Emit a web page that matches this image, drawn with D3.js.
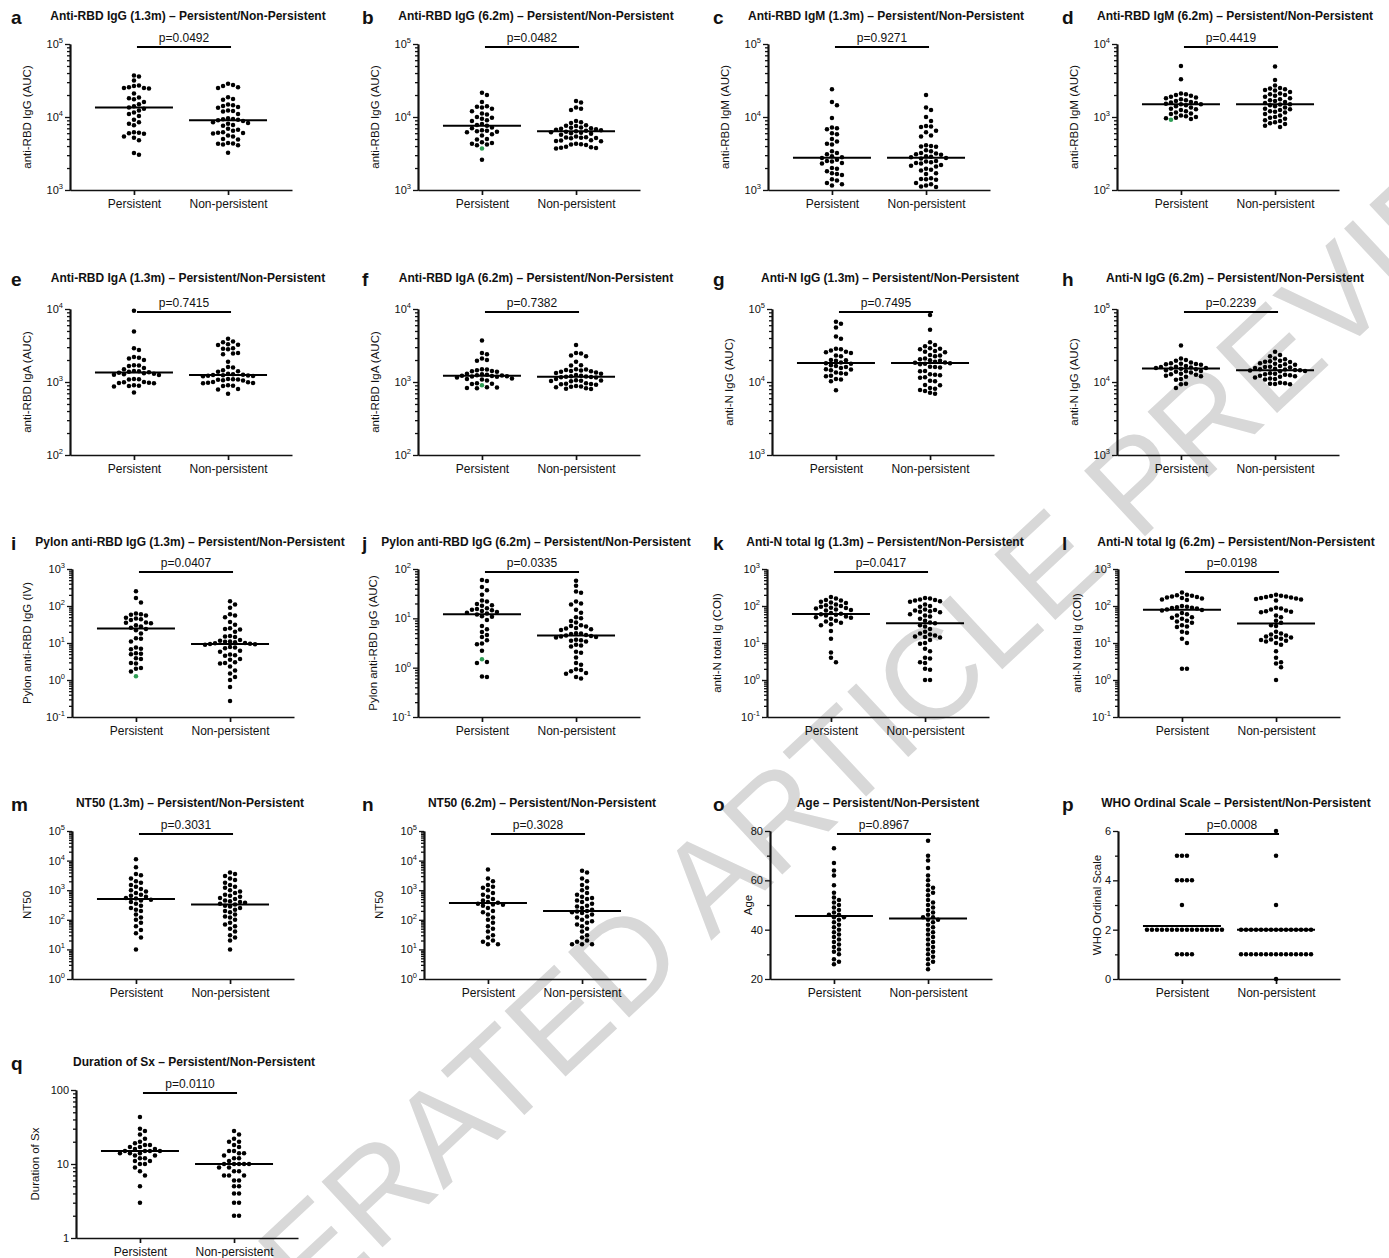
<!DOCTYPE html>
<html><head><meta charset="utf-8">
<script src="https://cdn.jsdelivr.net/npm/d3@7/dist/d3.min.js"></script>
<style>
body{margin:0;background:#fff;}
svg text{font-family:"Liberation Sans",Arial,Helvetica,sans-serif;fill:#111;}
</style></head><body>
<svg id="fig" width="1389" height="1258"></svg>
<script>
const groups = ["Persistent", "Non-persistent"];

// ---- measured values per panel: [persistent], [non-persistent] ----
const aP = [37000,36000,31500,27000,26500,25500,25000,25000,24500,21000,18500,18000,17500,16000,15000,14000,13500,13000,12300,11500,11000,10300,9200,8500,8100,7700,6200,6100,6000,5900,5400,5200,4800,3200,3050];
const aN = [28500,27500,26500,25500,25000,18700,17700,17200,14800,14500,14200,13700,13400,12300,12100,11900,11000,9600,9400,9300,9200,9000,8800,8500,8300,8100,7800,7600,6900,6700,6500,6200,6100,6050,5950,5600,5400,5000,4900,4400,4350,4300,4200,4100,3250];
const bP = [21500,20000,16000,14000,13800,13500,13000,12000,11200,10800,10000,9800,9500,9000,8800,8000,7800,7600,7200,7000,6600,6500,6400,6300,6200,5800,5600,5000,4900,4500,4400,4300,4200,4100,2600];
const bN = [16500,15800,13500,13000,12500,8800,8500,8300,7700,7600,7500,7200,7100,7000,6900,6800,6700,6600,6500,6400,6300,6200,6100,6000,5900,5700,5400,5300,5250,5200,5150,5100,4800,4750,4700,4650,4300,4250,4200,4150,3900,3850,3800,3750,3700];
const cP = [24000,16000,14500,9700,7200,7000,6800,6000,5800,5000,4600,4300,4200,3400,3200,3100,2900,2800,2750,2600,2500,2450,2350,2300,2000,1950,1800,1700,1650,1600,1400,1350,1250,1200,1150];
const cN = [20000,13500,12500,10000,8800,7500,7400,7300,6500,6200,5600,5400,4100,4000,3950,3900,3500,3400,3200,3150,3100,3050,2900,2850,2800,2750,2700,2500,2450,2400,2350,2300,2200,2150,2100,1950,1900,1850,1700,1650,1450,1420,1400,1380,1250,1200,1150,1120,1100];
const dP = [5000,3300,2100,2050,2000,1950,1900,1850,1800,1750,1700,1650,1600,1580,1550,1520,1500,1490,1450,1400,1350,1300,1280,1250,1200,1150,1120,1100,1050,1020,1000,980,960,940];
const dN = [4900,3200,2700,2500,2450,2400,2350,2300,2200,2100,2050,2000,1950,1900,1800,1750,1700,1650,1600,1550,1500,1480,1450,1400,1350,1300,1280,1250,1200,1180,1150,1100,1050,1000,980,950,900,880,850,820,800,760,730];
const eP = [9500,4900,2900,2750,2200,2150,2100,2000,1700,1680,1650,1550,1500,1420,1400,1380,1360,1340,1320,1300,1280,1260,1250,1100,1090,1080,1000,990,980,970,960,900,890,880,870,720];
const eN = [3900,3600,3500,3300,3250,3200,2900,2850,2800,2500,2450,2400,1900,1600,1580,1450,1400,1380,1300,1280,1260,1250,1240,1230,1220,1210,1200,1100,1090,1080,1070,1060,1050,1000,990,980,970,960,900,890,880,800,790,690];
const fP = [3700,2500,2400,2100,2000,1950,1500,1480,1450,1420,1400,1380,1300,1280,1260,1240,1230,1220,1210,1200,1190,1180,1150,1120,1100,1080,1050,960,950,940,850,840,830,820];
const fN = [3200,2500,2450,2300,2250,1900,1700,1680,1500,1480,1460,1440,1420,1400,1380,1350,1330,1300,1250,1220,1200,1190,1180,1170,1160,1150,1100,1060,1050,1040,1030,1020,960,950,940,930,920,880,870,860,850,820,810,800];
const gP = [67000,63000,56000,42000,39000,28500,28000,27000,26000,25500,25000,23000,22500,20000,19800,19500,18500,18000,17800,17000,16500,16000,15500,15000,14800,14500,13500,13200,13000,12200,12000,11000,10800,10200,7700];
const gN = [83000,52000,35000,32000,31000,29000,28500,28000,26500,26000,25500,23500,23000,22500,21000,20500,19800,19500,19000,18500,18300,18000,17800,17500,16200,16000,15800,14200,14000,12800,12600,12400,11600,11400,10400,10200,9100,9000,8300,8100,7800,7500,7100,6900];
const hP = [31500,21000,20000,19500,18500,18000,17800,17600,17500,17200,16500,16200,16000,15800,15600,15500,15300,15200,15000,14500,14200,14000,13800,13500,13000,12800,12600,12200,12000,11800,11000,10700,9500,9300,8300];
const hN = [26000,23500,22500,21000,20500,19500,19200,19000,18800,18000,17800,17500,17200,16500,16200,16000,15800,15500,15200,15000,14800,14600,14500,14400,14200,14000,13200,13000,12800,12600,12400,12200,12000,11800,11500,11200,11000,10800,9800,9600,9500,9400,9300];
const iP = [250,165,125,63,60,58,55,48,46,44,42,36,35,34,30,28,26,24,22,18,13.5,13,11,7.5,7,6.8,5.3,5.1,5,3.9,3.7,2.9,2.8,2.1,2.0,1.7];
const iN = [135,110,90,60,55,50,37,31,25,24,23,20,15.5,15,14.5,12,11.5,11,10.8,10.5,10,9.8,9.6,9.4,9.2,9,7.8,7.5,7.2,6.2,5.8,4.9,4.7,4.5,3.7,3.5,3.0,2.9,2.8,2.3,1.8,1.5,1.2,1.0,0.65,0.27];
const jP = [60,57,43,37,30,23,22,19.5,18.5,18,16,15.5,15,14.5,14,13.5,13,12.5,12,11,10.8,9.3,7,6,5.3,4.6,4.2,3.6,3.1,3.0,2.2,1.3,1.25,0.66,0.65];
const jN = [58,46,35,33,22,20,19,15,13,10.5,10,8.8,8.2,7.2,7,6.8,6.4,6.2,6,5.8,5.0,4.9,4.8,4.6,4.5,4.4,4.3,4.2,4.1,3.7,3.6,3.5,3.4,2.9,2.8,2.7,2.1,2.0,1.6,1.25,1.15,0.93,0.9,0.85,0.78,0.75,0.65,0.6];
const kP = [175,160,145,140,130,125,120,110,105,100,95,90,88,85,80,78,75,65,62,60,58,55,52,50,48,45,40,38,35,32,30,21,13,5.5,4,3];
const kN = [165,160,150,145,140,135,130,110,100,95,80,78,75,72,70,68,60,55,52,45,40,36,34,30,28,24,20,18,17,16,15,14.5,14,12,10,9.5,7,6,4,3.8,3,2.9,2,1.9,1.0,1.0];
const lP = [230,200,195,190,180,175,170,165,160,150,145,100,95,92,90,88,85,80,78,75,65,60,55,50,48,45,40,38,35,30,28,27,20,19,13,10,2,2];
const lN = [200,190,185,180,175,170,165,160,155,150,140,90,85,80,75,72,70,68,55,50,40,35,30,29,20,18,17,16,15,14.5,14,13,12.5,12,11.5,11,10,9,6,4,3,2.8,2.2,1.0];
const mP = [11000,6000,3500,3200,2500,2000,1800,1500,1300,1100,1000,900,800,700,650,600,550,520,480,450,400,350,300,250,220,200,150,120,100,80,60,45,35,25,10];
const mN = [4000,3500,3000,2500,2200,1800,1500,1300,1200,1000,900,800,700,650,600,550,500,450,420,400,380,350,330,300,280,250,220,200,180,150,130,120,100,80,70,60,50,40,30,25,20,10];
const nP = [5000,2500,2000,1500,1300,1200,1000,800,700,600,500,450,400,380,350,330,320,300,250,200,180,150,120,100,80,60,50,40,30,25,20,18,15,15];
const nN = [4500,4000,2500,2000,1500,1200,1000,800,700,600,550,500,450,400,350,300,280,250,220,200,190,180,170,150,130,120,100,90,80,70,60,50,40,30,25,20,18,15,15,15];
const oP = [73,67,64,62,58,55,53,52,51,50,49,48,47,46,46,45,45,44,43,42,41,40,39,38,37,36,35,34,33,32,31,30,28,27,26];
const oN = [76,70,68,65,62,60,58,57,56,55,54,52,51,50,49,48,47,46,45,45,44,44,43,42,41,40,39,38,37,36,35,34,33,32,31,30,29,28,27,26,24];
const pP = [5,5,5,4,4,4,4,3,2,2,2,2,2,2,2,2,2,2,2,2,2,2,2,2,1,1,1,1];
const pN = [6,5,3,2,2,2,2,2,2,2,2,2,2,2,2,2,2,2,1,1,1,1,1,1,1,1,1,1,1,1,1,1,1,0];
const qP = [43,30,28,25,22,20,19,18,18,17,17,16,16,15,15,15,15,14,14,14,13,13,12,12,11,11,10,10,9,8,7,5,3];
const qN = [28,25,22,20,20,18,17,15,15,14,14,13,12,12,11,10,10,10,10,10,9,9,8,8,7,7,7,6,6,5,5,4,4,3,3,2,2];

// group summary lines (persistent, non-persistent)
const medians = {a:[13500,9000], b:[7600,6400], c:[2760,2760], d:[1490,1490], e:[1350,1250], f:[1220,1180],
  g:[18200,18200], h:[15300,14500], i:[24.5,9.4], j:[12.1,4.5], k:[61,34], l:[79,33.5],
  m:[500,330], n:[370,200], o:[45.5,44.5], p:[2.15,2.0], q:[15,10]};
// individually highlighted persistent-group values
const highlighted = {b:3700, d:920, f:900, i:1.27, j:1.48};

const pValues = {a:"p=0.0492", b:"p=0.0482", c:"p=0.9271", d:"p=0.4419", e:"p=0.7415", f:"p=0.7382",
  g:"p=0.7495", h:"p=0.2239", i:"p=0.0407", j:"p=0.0335", k:"p=0.0417", l:"p=0.0198",
  m:"p=0.3031", n:"p=0.3028", o:"p=0.8967", p:"p=0.0008", q:"p=0.0110"};

const titles = {
  a:"Anti-RBD IgG (1.3m) – Persistent/Non-Persistent", b:"Anti-RBD IgG (6.2m) – Persistent/Non-Persistent",
  c:"Anti-RBD IgM (1.3m) – Persistent/Non-Persistent", d:"Anti-RBD IgM (6.2m) – Persistent/Non-Persistent",
  e:"Anti-RBD IgA (1.3m) – Persistent/Non-Persistent", f:"Anti-RBD IgA (6.2m) – Persistent/Non-Persistent",
  g:"Anti-N IgG (1.3m) – Persistent/Non-Persistent", h:"Anti-N IgG (6.2m) – Persistent/Non-Persistent",
  i:"Pylon anti-RBD IgG (1.3m) – Persistent/Non-Persistent", j:"Pylon anti-RBD IgG (6.2m) – Persistent/Non-Persistent",
  k:"Anti-N total Ig (1.3m) – Persistent/Non-Persistent", l:"Anti-N total Ig (6.2m) – Persistent/Non-Persistent",
  m:"NT50 (1.3m) – Persistent/Non-Persistent", n:"NT50 (6.2m) – Persistent/Non-Persistent",
  o:"Age – Persistent/Non-Persistent", p:"WHO Ordinal Scale – Persistent/Non-Persistent",
  q:"Duration of Sx – Persistent/Non-Persistent"};

const yLabels = {a:"anti-RBD IgG (AUC)", b:"anti-RBD IgG (AUC)", c:"anti-RBD IgM (AUC)", d:"anti-RBD IgM (AUC)",
  e:"anti-RBD IgA (AUC)", f:"anti-RBD IgA (AUC)", g:"anti-N IgG (AUC)", h:"anti-N IgG (AUC)",
  i:"Pylon anti-RBD IgG (IV)", j:"Pylon anti-RBD IgG (AUC)", k:"anti-N total Ig (COI)", l:"anti-N total Ig (COI)",
  m:"NT50", n:"NT50", o:"Age", p:"WHO Ordinal Scale", q:"Duration of Sx"};

const series = {a:[aP,aN], b:[bP,bN], c:[cP,cN], d:[dP,dN], e:[eP,eN], f:[fP,fN], g:[gP,gN], h:[hP,hN],
  i:[iP,iN], j:[jP,jN], k:[kP,kN], l:[lP,lN], m:[mP,mN], n:[nP,nN], o:[oP,oN], p:[pP,pN], q:[qP,qN]};

// y-axis domains and tick sets
const yDomains = {a:[1e3,1e5], b:[1e3,1e5], c:[1e3,1e5], d:[1e2,1e4], e:[1e2,1e4], f:[1e2,1e4],
  g:[1e3,1e5], h:[1e3,1e5], i:[0.1,1e3], j:[0.1,1e2], k:[0.1,1e3], l:[0.1,1e3],
  m:[1,1e5], n:[1,1e5], o:[20,80], p:[0,6], q:[1,100]};
const linearTicks = {o:[20,40,60,80], p:[0,2,4,6]};
const linearMinor = {o:[30,50,70], p:[1,3,5]};

// ---- layout ----
const rows = [
  {titleY:20, top:44, bottom:190},
  {titleY:282, top:309, bottom:455},
  {titleY:546, top:569, bottom:717},
  {titleY:807, top:831, bottom:979},
  {titleY:1066, top:1090, bottom:1238}];
const colStart = [0, 349, 698, 1047];
const letterX = [11, 362, 713, 1062];
const layout = [
  {id:"a", r:0, c:0, ax:70, lab:43}, {id:"b", r:0, c:1, ax:418, lab:43}, {id:"c", r:0, c:2, ax:768, lab:43}, {id:"d", r:0, c:3, ax:1117, lab:43},
  {id:"e", r:1, c:0, ax:70, lab:43}, {id:"f", r:1, c:1, ax:418, lab:43}, {id:"g", r:1, c:2, ax:772, lab:43}, {id:"h", r:1, c:3, ax:1117, lab:43},
  {id:"i", r:2, c:0, ax:72, lab:45}, {id:"j", r:2, c:1, ax:418, lab:45}, {id:"k", r:2, c:2, ax:767, lab:50}, {id:"l", r:2, c:3, ax:1118, lab:41},
  {id:"m", r:3, c:0, ax:72, lab:45}, {id:"n", r:3, c:1, ax:424, lab:45}, {id:"o", r:3, c:2, ax:770, lab:22}, {id:"p", r:3, c:3, ax:1118, lab:21},
  {id:"q", r:4, c:0, ax:76, lab:41}];
const plotW = 222, dotR = 2.25, dotStep = 5, halfLine = 39;

const svg = d3.select("#fig");

// watermark, behind everything
svg.append("text")
  .attr("transform", "translate(785,872) rotate(-43)")
  .attr("text-anchor", "middle")
  .attr("font-size", 130)
  .style("fill", "#d8d8d8")
  .text("ACCELERATED ARTICLE PREVIEW");

const defs = svg.append("defs");
colStart.forEach((x, i) => {
  defs.append("clipPath").attr("id", "col" + i)
    .append("rect").attr("x", x).attr("y", 0).attr("width", 347).attr("height", 1258);
});

function swarm(values, y, cx) {
  const pts = values.map(d => ({...d, py: y(d.v)})).sort((a, b) => a.py - b.py);
  const placed = [];
  const minD2 = (dotStep * 0.98) ** 2;
  for (const p of pts) {
    for (let k = 0; k < 80; k++) {
      const off = k === 0 ? 0 : (k % 2 ? 1 : -1) * Math.ceil(k / 2) * dotStep;
      const x = cx + off;
      if (placed.every(q => (q.px - x) ** 2 + (q.py - p.py) ** 2 >= minD2)) { p.px = x; break; }
    }
    placed.push(p);
  }
  return placed;
}

layout.forEach(L => {
  const id = L.id, row = rows[L.r];
  const g = svg.append("g");
  const isLinear = !!linearTicks[id];
  const y = (isLinear ? d3.scaleLinear() : d3.scaleLog()).domain(yDomains[id]).range([row.bottom, row.top]);
  const x = d3.scalePoint().domain(groups).range([L.ax, L.ax + plotW]).padding(0.68);

  // panel letter and title
  g.append("text").attr("x", letterX[L.c]).attr("y", row.titleY + 4)
    .attr("font-size", 19).attr("font-weight", "bold").text(id);
  g.append("text").attr("x", L.ax + 118).attr("y", row.titleY)
    .attr("text-anchor", "middle").attr("font-size", 12).attr("font-weight", "bold")
    .attr("clip-path", `url(#col${L.c})`).text(titles[id]);

  // y axis
  const yAxisG = g.append("g").attr("transform", `translate(${L.ax},0)`);
  let majors, minors;
  if (isLinear) {
    majors = linearTicks[id]; minors = linearMinor[id];
  } else {
    const [lo, hi] = yDomains[id].map(v => Math.round(Math.log10(v)));
    majors = d3.range(lo, hi + 1).map(e => Math.pow(10, e));
    minors = [];
    for (let e = lo; e < hi; e++) for (let m = 2; m <= 9; m++) minors.push(m * Math.pow(10, e));
  }
  yAxisG.append("g").call(d3.axisLeft(y).tickValues(minors).tickSize(3).tickSizeOuter(0).tickFormat(""));
  const major = yAxisG.append("g").call(d3.axisLeft(y).tickValues(majors).tickSize(5).tickSizeOuter(0)
    .tickPadding(2).tickFormat(d3.format("d")));
  yAxisG.selectAll("path,line").attr("stroke", "#111").attr("stroke-width", 1.7);
  yAxisG.selectAll("g.tick line").attr("stroke-width", 1.3);
  major.selectAll("text").attr("font-size", 11).style("font-family", null);
  if (!isLinear && id !== "q") {
    major.selectAll(".tick text").each(function (d) {
      const t = d3.select(this), e = Math.round(Math.log10(d));
      t.text(null);
      t.append("tspan").text("10");
      t.append("tspan").attr("dy", -5).attr("font-size", 7.5).text(e);
    });
  }

  // y label
  g.append("text")
    .attr("transform", `translate(${L.ax - L.lab},${(row.top + row.bottom) / 2}) rotate(-90)`)
    .attr("text-anchor", "middle").attr("dy", "0.35em").attr("font-size", 11.5).text(yLabels[id]);

  // x axis
  const xAxisG = g.append("g").attr("transform", `translate(0,${row.bottom})`)
    .call(d3.axisBottom(x).tickSize(5).tickSizeOuter(0).tickPadding(4));
  xAxisG.selectAll("path,line").attr("stroke", "#111").attr("stroke-width", 1.7);
  xAxisG.selectAll("text").attr("font-size", 12).style("font-family", null);

  // points
  series[id].forEach((vals, gi) => {
    const items = vals.map(v => ({v, hl: false}));
    if (gi === 0 && highlighted[id] !== undefined) items.push({v: highlighted[id], hl: true});
    const pts = swarm(items, y, x(groups[gi]));
    g.append("g").selectAll("circle").data(pts).join("circle")
      .attr("cx", d => d.px).attr("cy", d => d.py).attr("r", dotR)
      .attr("fill", d => d.hl ? "#2f9e55" : "#000");
    // summary line
    const my = y(medians[id][gi]);
    g.append("line")
      .attr("x1", x(groups[gi]) - halfLine).attr("x2", x(groups[gi]) + halfLine)
      .attr("y1", my).attr("y2", my).attr("stroke", "#000").attr("stroke-width", 2);
  });

  // significance bracket
  const by = row.top + 3;
  g.append("line").attr("x1", x(groups[0]) + 3).attr("x2", x(groups[1]) + 3)
    .attr("y1", by).attr("y2", by).attr("stroke", "#000").attr("stroke-width", 1.8);
  g.append("text").attr("x", (x(groups[0]) + x(groups[1])) / 2 + 3).attr("y", by - 5)
    .attr("text-anchor", "middle").attr("font-size", 12).text(pValues[id]);
});
</script>
</body></html>
